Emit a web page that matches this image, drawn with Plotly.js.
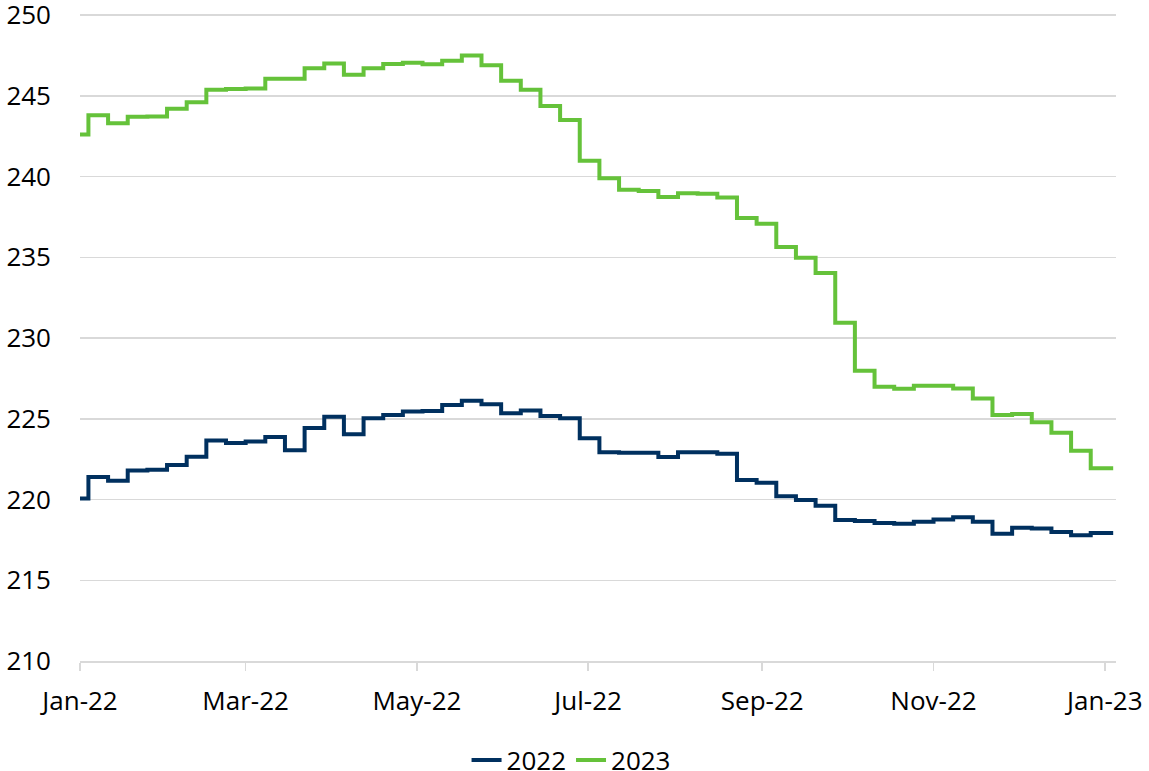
<!DOCTYPE html>
<html>
<head>
<meta charset="utf-8">
<script src="https://cdn.plot.ly/plotly-3.0.1.min.js"></script>
<style>
  html, body { margin: 0; padding: 0; background: #fff; }
  #chart { width: 1149px; height: 771px; }
</style>
</head>
<body>
<div id="chart"></div>
<script>
const dates = [
  "2022-01-01",
  "2022-01-04","2022-01-11","2022-01-18","2022-01-25",
  "2022-02-01","2022-02-08","2022-02-15","2022-02-22",
  "2022-03-01","2022-03-08","2022-03-15","2022-03-22","2022-03-29",
  "2022-04-05","2022-04-12","2022-04-19","2022-04-26",
  "2022-05-03","2022-05-10","2022-05-17","2022-05-24","2022-05-31",
  "2022-06-07","2022-06-14","2022-06-21","2022-06-28",
  "2022-07-05","2022-07-12","2022-07-19","2022-07-26",
  "2022-08-02","2022-08-09","2022-08-16","2022-08-23","2022-08-30",
  "2022-09-06","2022-09-13","2022-09-20","2022-09-27",
  "2022-10-04","2022-10-11","2022-10-18","2022-10-25",
  "2022-11-01","2022-11-08","2022-11-15","2022-11-22","2022-11-29",
  "2022-12-06","2022-12-13","2022-12-20","2022-12-27",
  "2023-01-03","2023-01-04"
];

const series2022 = [
  220.07,
  221.40,221.17,221.80,221.85,
  222.14,222.65,223.66,223.50,
  223.60,223.87,223.05,224.43,225.13,
  224.04,225.03,225.23,225.45,
  225.48,225.85,226.12,225.90,225.34,
  225.52,225.17,225.03,223.79,
  222.93,222.90,222.90,222.63,
  222.92,222.92,222.84,221.21,221.04,
  220.20,219.97,219.62,218.73,
  218.67,218.55,218.50,218.63,
  218.77,218.90,218.63,217.88,218.25,
  218.20,217.99,217.78,217.93,
  217.93,217.93
];

const series2023 = [
  242.60,
  243.80,243.30,243.70,243.72,
  244.20,244.60,245.38,245.42,
  245.45,246.05,246.05,246.70,247.00,
  246.30,246.70,246.97,247.05,
  246.95,247.17,247.50,246.90,245.93,
  245.38,244.37,243.50,240.98,
  239.90,239.18,239.10,238.73,
  238.97,238.93,238.70,237.43,237.08,
  235.63,234.97,234.02,230.95,
  227.98,226.99,226.86,227.05,
  227.05,226.88,226.26,225.23,225.30,
  224.78,224.14,223.02,221.93,
  221.93,221.93
];

const seriesNames = ["2022", "2023"];
const yTicks = [210, 215, 220, 225, 230, 235, 240, 245, 250];

const FONT = "'Open Sans', 'Noto Sans', sans-serif";

const traces = [
  {
    x: dates, y: series2022, name: seriesNames[0],
    type: "scatter", mode: "lines",
    line: { color: "#00305F", width: 4, shape: "hv" },
    hoverinfo: "skip"
  },
  {
    x: dates, y: series2023, name: seriesNames[1],
    type: "scatter", mode: "lines",
    line: { color: "#65C23A", width: 4, shape: "hv" },
    hoverinfo: "skip"
  }
];

const layout = {
  width: 1149, height: 771,
  margin: { l: 80, r: 33, t: 7, b: 110, pad: 0, autoexpand: false },
  paper_bgcolor: "#ffffff",
  plot_bgcolor: "#ffffff",
  font: { family: FONT, size: 26, color: "#000000" },
  showlegend: true,
  legend: {
    orientation: "h",
    xref: "container",
    x: 0.497, xanchor: "center",
    yref: "paper",
    y: -0.1515, yanchor: "middle",
    font: { family: FONT, size: 26, color: "#000000" },
    itemwidth: 30,
    tracegroupgap: 0,
    bgcolor: "rgba(0,0,0,0)"
  },
  xaxis: {
    type: "date",
    range: ["2022-01-01", "2023-01-05"],
    tickmode: "linear",
    tick0: "2022-01-01",
    dtick: "M2",
    tickformat: "%b-%y",
    ticks: "outside",
    ticklen: 8,
    tickwidth: 1.5,
    tickcolor: "#d9d9d9",
    showgrid: false,
    showline: true,
    linecolor: "#d9d9d9",
    linewidth: 1.5,
    zeroline: false,
    ticklabelstandoff: 8,
    ticklabeloverflow: "allow",
    tickfont: { family: FONT, size: 26, color: "#000000" }
  },
  yaxis: {
    range: [210, 250.5],
    tickmode: "array",
    tickvals: yTicks,
    ticktext: yTicks.map(String),
    showgrid: true,
    gridcolor: "#d9d9d9",
    gridwidth: 1.5,
    showline: false,
    zeroline: false,
    ticks: "",
    ticklabelstandoff: 28,
    ticklabeloverflow: "allow",
    tickfont: { family: FONT, size: 26, color: "#000000" }
  }
};

Plotly.newPlot("chart", traces, layout, { displayModeBar: false, staticPlot: true });
</script>
</body>
</html>
